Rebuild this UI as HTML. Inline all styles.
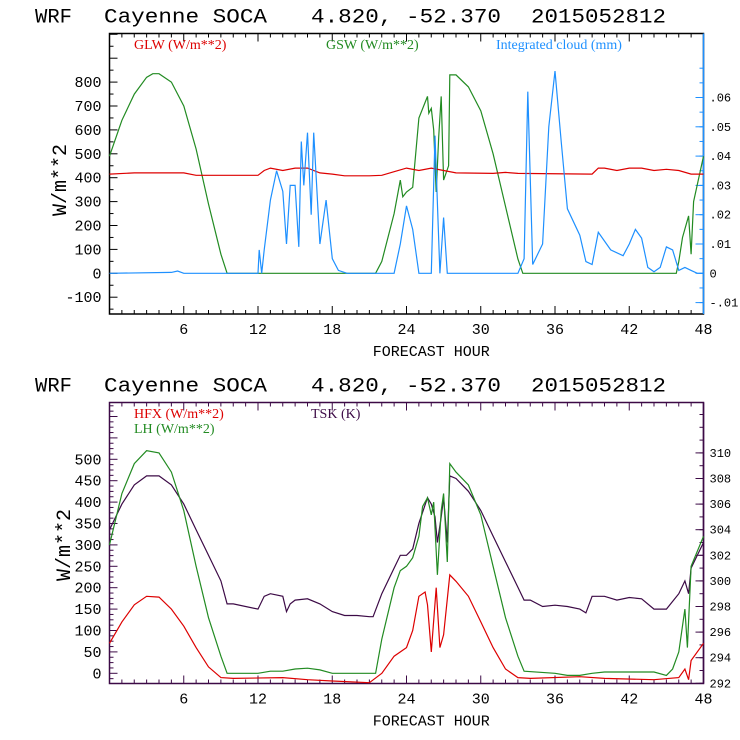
<!DOCTYPE html>
<html><head><meta charset="utf-8"><style>
html,body{margin:0;padding:0;background:#fff;width:740px;height:740px;overflow:hidden}
svg{display:block}
.t{font-family:"Liberation Mono",monospace;font-size:20px;fill:#000}
.tk{font-family:"Liberation Mono",monospace;font-size:15px;fill:#000}
.rk{font-family:"Liberation Mono",monospace;font-size:12px;fill:#000}
.lg{font-family:"Liberation Serif",serif;font-size:14px}
</style></head><body>
<svg id="s" width="740" height="740" xmlns="http://www.w3.org/2000/svg"></svg>
<script>
// ---------- data: top panel ----------
const gswH=[0,1,2,3,3.5,4,5,6,7,8,9,9.5,21.5,22,23,23.5,23.7,24,24.5,25,25.7,25.8,26,26.2,26.4,26.6,26.8,27,27.4,27.5,28,29,30,31,32,33,33.4,45.8,46,46.3,46.8,47,47.2,48];
const gswV=[490,640,750,820,835,835,800,700,520,290,80,0,0,50,250,390,320,340,360,650,740,670,690,600,340,570,740,390,450,830,830,780,680,500,280,60,0,0,50,150,240,80,300,490];
const glwH=[0,2,6,7,12,12.5,13,14,15,16,17,18,19,21,22,23,24,25,26,27,28,31,32,33,39,39.5,40,41,42,43,44,45,46,47,48];
const glwV=[415,420,420,410,410,430,440,430,440,440,420,415,408,408,410,425,440,430,440,430,420,418,422,418,415,440,440,430,440,440,430,435,430,415,415];
const cldH=[0,5,5.5,6,12,12.1,12.3,12.5,13,13.5,14,14.3,14.6,15,15.3,15.5,15.7,16,16.3,16.5,17,17.5,18,18.5,19.2,23,23.5,24,24.5,25,26,26.3,26.7,27,27.3,33,33.5,33.8,34.2,35,35.5,36,36.5,37,38,38.5,39,39.5,40.5,41.5,42,42.5,43,43.5,44,44.5,45,45.5,46,46.5,47,47.5,48];
const cldV=[0,0.0003,0.0008,0,0,0.008,0,0.008,0.025,0.035,0.028,0.01,0.03,0.03,0.009,0.045,0.03,0.048,0.02,0.048,0.01,0.025,0.005,0.001,0,0,0.01,0.023,0.015,0,0,0.047,0,0.019,0,0,0.005,0.062,0.003,0.01,0.05,0.069,0.045,0.022,0.013,0.004,0.003,0.014,0.008,0.006,0.01,0.015,0.012,0.002,0.0005,0.002,0.009,0.008,0.001,0.002,0.001,0,0];
const topLeftTicks=[-100,0,100,200,300,400,500,600,700,800];
const topRightTicks=[-0.01,0,0.01,0.02,0.03,0.04,0.05,0.06];
const topRightLabels=["-.01","0",".01",".02",".03",".04",".05",".06"];
const hourTicks=[6,12,18,24,30,36,42,48];
// ---------- data: bottom panel ----------
const lhH=[0,1,2,3,4,5,6,7,8,9,9.5,12,13,14,15,16,17,18,21.5,22,23,23.5,24,24.5,25,25.3,25.7,26,26.2,26.5,26.8,27,27.3,27.5,28,29,30,31,32,33,33.5,36,37,38,39,40,44,45,45.5,46,46.5,46.7,47,48];
const lhV=[300,420,490,520,515,470,380,250,130,40,0,0,5,5,10,12,8,0,0,80,200,240,250,270,320,390,410,370,400,230,380,420,260,490,470,440,370,250,130,40,5,0,-5,-5,0,3,3,-5,10,50,150,60,250,320];
const hfxH=[0,1,2,3,4,5,6,7,8,9,10,14,16,18,21,22,23,24,24.5,25,25.5,25.7,26,26.4,26.7,27,27.5,28,29,30,31,32,33,34,38,40,44,46,46.5,46.8,47,48];
const hfxV=[70,120,160,180,178,150,110,60,15,-10,-12,-10,-15,-18,-22,0,40,60,100,180,190,160,50,200,60,90,230,215,180,120,60,10,-10,-12,-8,-12,-15,-10,10,-15,30,70];
const tskH=[0,1,2,3,4,5,6,7,8,9,9.5,10,12,12.5,13,14,14.3,14.6,15,16,17,18,19,20,21,21.3,22,23,23.5,24,24.5,25,25.7,26,26.3,26.5,26.8,27,27.3,27.5,28,29,30,31,32,33,33.5,34,35,36,37,38,38.5,39,40,41,42,43,44,45,46,46.5,46.8,47,48];
const tskV=[304,306,307.5,308.2,308.2,307.5,306,304,302,300,298.2,298.2,297.8,298.8,299,298.8,297.6,298.2,298.5,298.6,298.2,297.6,297.3,297.3,297.2,297.2,299,301,302,302,302.5,304.5,306.5,306,305,303,305,306.5,303,308.2,308,307,305.5,303.5,301.5,299.5,298.5,298.5,298,298.1,298,297.8,297.5,298.8,298.8,298.5,298.7,298.6,297.8,297.8,299,300,299,301,303];
const botLeftTicks=[0,50,100,150,200,250,300,350,400,450,500];
const botRightTicks=[292,294,296,298,300,302,304,306,308,310];

const NS="http://www.w3.org/2000/svg";
const svg=document.getElementById('s');
function el(tag,attrs,parent){const e=document.createElementNS(NS,tag);for(const k in attrs)e.setAttribute(k,attrs[k]);(parent||svg).appendChild(e);return e;}
const X0=109.5,X1=703.5;
const xs=h=>X0+(X1-X0)*h/48;
const titleParts=[["WRF",35,37],["Cayenne SOCA",104,163],["4.820, -52.370",311,190],["2015052812",531,135]];

function panel(cfg){
  const g=el('g',{});
  
  
  titleParts.forEach(p=>{
    const tt=el('text',{x:p[1],y:cfg.top-11,class:'t',textLength:p[2],lengthAdjust:'spacingAndGlyphs'},g);
    tt.textContent=p[0];
    
    
  });
  const box=el('rect',{x:X0,y:cfg.top,width:X1-X0,height:cfg.bot-cfg.top,fill:'none',stroke:cfg.frame,'stroke-width':1.5},g);
  
  
  el('line',{x1:X1,y1:cfg.top,x2:X1,y2:cfg.bot,stroke:cfg.rframe,'stroke-width':1.5},g);
  for(let h=1;h<48;h++){const x=xs(h);const L=h%6==0?8:4;
    el('line',{x1:x,y1:cfg.bot,x2:x,y2:cfg.bot-L,stroke:cfg.frame},g);
    el('line',{x1:x,y1:cfg.top,x2:x,y2:cfg.top+L,stroke:cfg.frame},g);}
  hourTicks.forEach(h=>{const t=el('text',{x:xs(h),y:cfg.bot+20,class:'tk','text-anchor':'middle'},g);t.textContent=h;
    
    });
  const xl=el('text',{x:xs(26),y:cfg.bot+42,class:'tk','text-anchor':'middle'},g);xl.textContent='FORECAST HOUR';
  
  
  const yl=el('text',{x:0,y:0,class:'t',transform:`translate(${cfg.ylx},${cfg.yly}) rotate(-90)`,'text-anchor':'middle'},g);yl.textContent='W/m**2';
  
  
  for(let v=cfg.lmin;v<=cfg.lmax;v+=cfg.lminor){const y=cfg.ly(v);if(y<cfg.top||y>cfg.bot)continue;
    const major=Math.abs(v/cfg.lmajor-Math.round(v/cfg.lmajor))<1e-6;
    el('line',{x1:X0,y1:y,x2:X0+(major?8:4),y2:y,stroke:cfg.frame},g);}
  cfg.lt.forEach(v=>{const t=el('text',{x:X0-8,y:cfg.ly(v)+5,class:'tk','text-anchor':'end'},g);t.textContent=v;
    
    });
  cfg.rt.forEach((v,i)=>{const y=cfg.ry(v);el('line',{x1:X1,y1:y,x2:X1-8,y2:y,stroke:cfg.rframe},g);
    const t=el('text',{x:X1+6,y:y+4,class:'rk'},g);t.textContent=cfg.rl?cfg.rl[i]:v;
    
    });
  for(let k=0;k<cfg.rminor.length;k++){const y=cfg.ry(cfg.rminor[k]);if(y<cfg.top||y>cfg.bot)continue;el('line',{x1:X1,y1:y,x2:X1-4,y2:y,stroke:cfg.rframe},g);}
  cfg.series.forEach(s=>{
    const pts=s.h.map((h,i)=>xs(h).toFixed(1)+','+s.fy(s.v[i]).toFixed(1)).join(' ');
    const p=el('polyline',{points:pts,fill:'none',stroke:s.c,'stroke-width':1.2},g);
    
    
  });
  cfg.legend.forEach(l=>{const t=el('text',{x:l.x,y:l.y,class:'lg',fill:l.c},g);t.textContent=l.t;
    
    });
}
const tly=v=>273.3-v*0.239;
const try_=v=>273.3-v*2930;
const topMinorR=[];for(let i=-1.5;i<=7;i+=0.5)topMinorR.push(i/100);
panel({name:'top-panel',top:33.5,bot:314,frame:'#000',rframe:'#1e90ff',ylx:66,yly:180,
  ly:tly,ry:try_,lmin:-150,lmax:1000,lminor:50,lmajor:100,lt:topLeftTicks,rt:topRightTicks,rl:topRightLabels,rminor:topMinorR,
  series:[{name:'gsw-line',h:gswH,v:gswV,c:'#228b22',fy:tly},
          {name:'glw-line',h:glwH,v:glwV,c:'#dd0000',fy:tly},
          {name:'cloud-line',h:cldH,v:cldV,c:'#1e90ff',fy:try_}],
  legend:[{x:134,y:49,c:'#dd0000',t:'GLW (W/m**2)'},{x:326,y:49,c:'#228b22',t:'GSW (W/m**2)'},{x:496,y:49,c:'#1e90ff',t:'Integrated cloud (mm)'}]});
const bly=v=>673.3-v*0.428;
const bry=v=>683.3-(v-292)*12.8;
const botMinorR=[];for(let i=292;i<=316;i+=1)botMinorR.push(i);
panel({name:'bottom-panel',top:402.5,bot:683.5,frame:'#3c0a46',rframe:'#3c0a46',ylx:70,yly:545,
  ly:bly,ry:bry,lmin:-25,lmax:700,lminor:12.5,lmajor:50,lt:botLeftTicks,rt:botRightTicks,rminor:botMinorR,
  series:[{name:'tsk-line',h:tskH,v:tskV,c:'#3c0a46',fy:bry},
          {name:'lh-line',h:lhH,v:lhV,c:'#228b22',fy:bly},
          {name:'hfx-line',h:hfxH,v:hfxV,c:'#dd0000',fy:bly}],
  legend:[{x:134,y:418,c:'#dd0000',t:'HFX (W/m**2)'},{x:134,y:433,c:'#228b22',t:'LH  (W/m**2)'},{x:311,y:418,c:'#3c0a46',t:'TSK (K)'}]});
</script>
</body></html>
